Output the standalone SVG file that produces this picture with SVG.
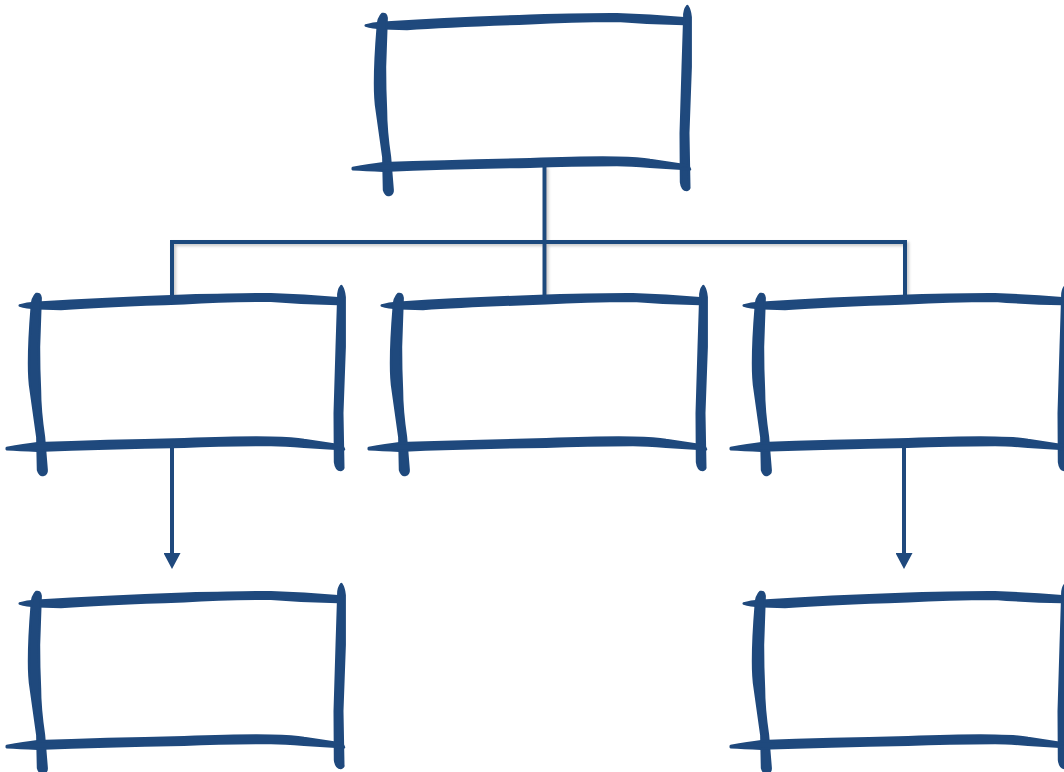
<svg xmlns="http://www.w3.org/2000/svg" xmlns:xlink="http://www.w3.org/1999/xlink" width="1064" height="772" viewBox="0 0 1064 772">
<style>
.ink{fill:#1F497D;stroke:#1F497D;stroke-width:2.4;stroke-linejoin:round}
.conn{fill:none;stroke:#1F497D;stroke-width:4;filter:url(#sh)}
.arrow{fill:none;stroke:#1F497D;stroke-width:4}
</style>
<defs>
<filter id="sh" x="-20%" y="-20%" width="140%" height="140%">
<feDropShadow dx="2" dy="2" stdDeviation="1.5" flood-color="#888888" flood-opacity="0.45"/>
</filter>
<marker id="ah" viewBox="0 0 16 17" refX="1" refY="8.5" markerWidth="16" markerHeight="17" markerUnits="userSpaceOnUse" orient="auto">
<path d="M0,0 L16,8.5 L0,17 Z" fill="#1F497D"/>
</marker>
<g id="sketch">
<path class="ink" d="M365.7,25.5 Q372,23.5 383,22.7 Q450,18.5 530,15.7 Q600,14 617,14.3 Q650,15.5 684,18.3 L684,24 Q650,23.5 617,20.7 Q570,21 530,23.3 Q450,26 407,29 L383,28.3 Q372,27.5 365.7,25.5 Z"/>
<path class="ink" d="M382.3,14 Q378,18 377.7,27 Q375,60 375,83 Q375,100 376.7,110 Q381,140 383.3,157 L384,190 Q386,196 389,195 Q393,194 392.7,190 L390,157 Q386,130 386,110 Q385,90 385,67 L386.7,18 Q386,13 382.3,14 Z"/>
<path class="ink" d="M687.3,6 Q684,10 684.3,17 L682.7,67 L680.7,133 L681,182 Q682,190 686.7,190 Q690,189 689.3,187 L688.3,133 L690.7,67 L690.7,17 Q690,10 687.3,6 Z"/>
<path class="ink" d="M352.7,168 Q370,165 383.3,163.3 Q450,161 530,159.3 Q590,157 617,157.7 Q640,158 650,160 L688.3,165.7 L690,169.3 L650,166.7 Q630,165 617,165 Q570,165 530,166.7 Q450,168 383.3,170.7 Q365,170 352.7,169.3 Z"/>
</g>
</defs>
<g id="connectors">
<path class="conn" d="M544.5,166 V242 M172,298 V242 H905 V298 M544.5,242 V298"/>
<line class="arrow" x1="172" y1="447" x2="172" y2="554" marker-end="url(#ah)"/>
<line class="arrow" x1="904" y1="447" x2="904" y2="554" marker-end="url(#ah)"/>
</g>
<g id="node-top"><use href="#sketch" xlink:href="#sketch"/></g>
<g id="node-mid-left"><use href="#sketch" xlink:href="#sketch" transform="translate(-346,280)"/></g>
<g id="node-mid-center"><use href="#sketch" xlink:href="#sketch" transform="translate(16,280)"/></g>
<g id="node-mid-right"><use href="#sketch" xlink:href="#sketch" transform="translate(378,280)"/></g>
<g id="node-bottom-left"><use href="#sketch" xlink:href="#sketch" transform="translate(-346,578)"/></g>
<g id="node-bottom-right"><use href="#sketch" xlink:href="#sketch" transform="translate(378,578)"/></g>
</svg>
